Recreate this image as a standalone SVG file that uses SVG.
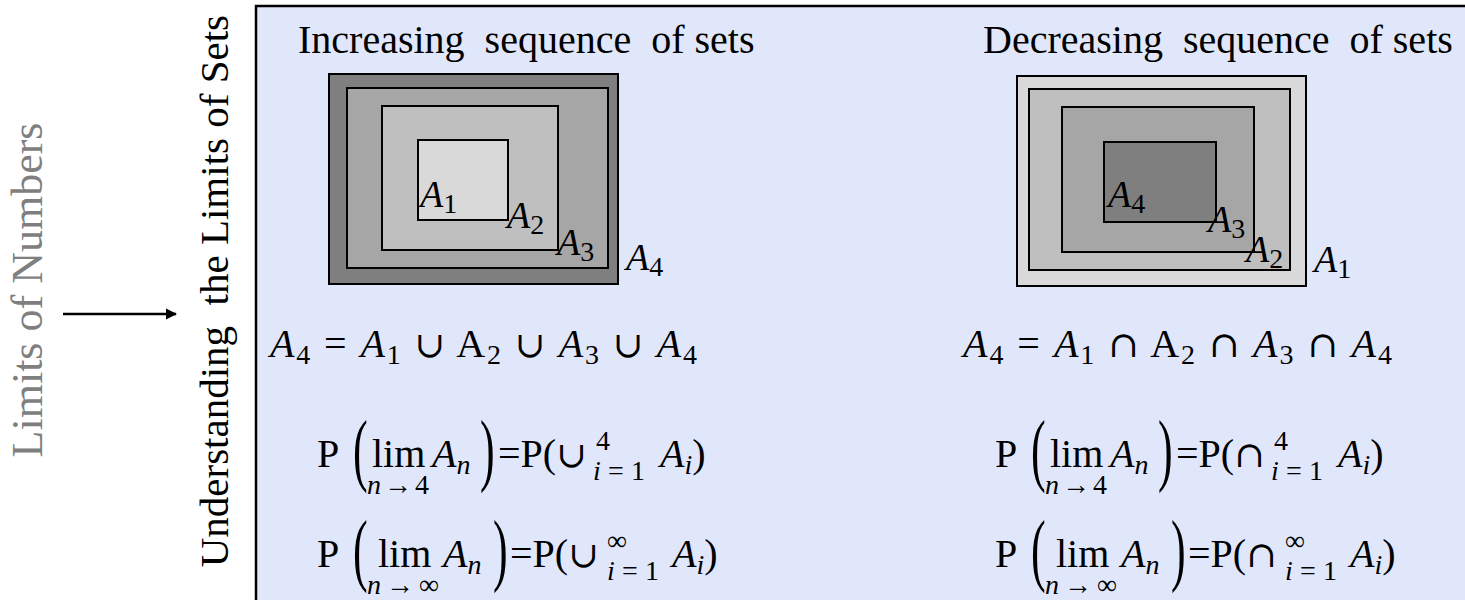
<svg xmlns="http://www.w3.org/2000/svg" width="1465" height="600" viewBox="0 0 1465 600">
<style>
.t{font-family:"Liberation Serif","DejaVu Serif",serif;fill:#000}
.g{fill:#7f7f7f}
.m{font-family:"Liberation Serif","DejaVu Serif",serif;fill:#000;font-size:40px}
.i{font-style:italic}
.sb{font-size:28px}
.op{font-family:"DejaVu Serif",serif;font-size:36px}
.lab{font-family:"Liberation Serif","DejaVu Serif",serif;font-size:38px;fill:#000}
.box{stroke:#000;stroke-width:2}
.bp{font-family:"Liberation Serif","DejaVu Serif",serif;font-size:80px;fill:#000}
</style>
<defs>
<marker id="ah" viewBox="0 0 10 10" refX="9" refY="5" markerWidth="4.5" markerHeight="4.5" orient="auto"><path d="M0,0 L10,5 L0,10 z" fill="#000"/></marker>
</defs>
<rect x="0" y="0" width="1465" height="600" fill="#fff"/>
<g id="left-labels">
<text class="t g" font-size="44" transform="translate(42,290) rotate(-90)" text-anchor="middle">Limits of Numbers</text>
<text class="t" font-size="41" xml:space="preserve" transform="translate(228,15) rotate(-90)" text-anchor="end">Understanding  the Limits of Sets</text>
</g>
<g id="connectors">
<line x1="63" y1="314" x2="176" y2="314" stroke="#000" stroke-width="2.5" marker-end="url(#ah)"/>
</g>
<g id="panel">
<rect x="256" y="6" width="1220" height="600" fill="#e1e7fa" stroke="#000" stroke-width="2.5"/>
</g>
<g id="increasing">
<text class="t" font-size="40" x="298" y="53" xml:space="preserve">Increasing  sequence  of sets</text>
<rect class="box" x="329" y="74" width="289" height="210" fill="#7f7f7f"/>
<rect class="box" x="347" y="88" width="261" height="180" fill="#a6a6a6"/>
<rect class="box" x="382" y="106" width="176" height="144" fill="#bfbfbf"/>
<rect class="box" x="418" y="140" width="90" height="80" fill="#d9d9d9"/>
<text class="lab" x="420" y="207"><tspan class="i">A</tspan><tspan class="sb" dy="6">1</tspan></text>
<text class="lab" x="507" y="228"><tspan class="i">A</tspan><tspan class="sb" dy="6">2</tspan></text>
<text class="lab" x="557" y="255"><tspan class="i">A</tspan><tspan class="sb" dy="6">3</tspan></text>
<text class="lab" x="626" y="270"><tspan class="i">A</tspan><tspan class="sb" dy="6">4</tspan></text>
</g>
<g id="decreasing">
<text class="t" font-size="40" x="983" y="53" xml:space="preserve">Decreasing  sequence  of sets</text>
<rect class="box" x="1017" y="76" width="289" height="210" fill="#d9d9d9"/>
<rect class="box" x="1029" y="89" width="261" height="181" fill="#bfbfbf"/>
<rect class="box" x="1062" y="107" width="192" height="145" fill="#a6a6a6"/>
<rect class="box" x="1104" y="142" width="112" height="80" fill="#7f7f7f"/>
<text class="lab" x="1108" y="207"><tspan class="i">A</tspan><tspan class="sb" dy="6">4</tspan></text>
<text class="lab" x="1208" y="232"><tspan class="i">A</tspan><tspan class="sb" dy="6">3</tspan></text>
<text class="lab" x="1246" y="262"><tspan class="i">A</tspan><tspan class="sb" dy="6">2</tspan></text>
<text class="lab" x="1314" y="272"><tspan class="i">A</tspan><tspan class="sb" dy="6">1</tspan></text>
</g>
<g id="union-formulas">
<text class="m" x="270" y="357" textLength="427" lengthAdjust="spacing"><tspan class="i">A</tspan><tspan class="sb" dy="7">4</tspan><tspan dy="-7"> = </tspan><tspan class="i">A</tspan><tspan class="sb" dy="7">1</tspan><tspan dy="-7"> </tspan><tspan class="op">∪</tspan> A<tspan class="sb" dy="7">2</tspan><tspan dy="-7"> </tspan><tspan class="op">∪</tspan> <tspan class="i">A</tspan><tspan class="sb" dy="7">3</tspan><tspan dy="-7"> </tspan><tspan class="op">∪</tspan> <tspan class="i">A</tspan><tspan class="sb" dy="7">4</tspan></text>
<g>
<text class="m" x="317" y="467">P</text>
<text class="bp" transform="translate(353,476) scale(0.55,1)">(</text>
<text class="m" x="372" y="467">lim</text>
<text class="m sb" x="367" y="494" textLength="62"><tspan class="i">n</tspan>→4</text>
<text class="m" x="432" y="467"><tspan class="i">A</tspan><tspan class="sb i" dy="7">n</tspan></text>
<text class="bp" transform="translate(480,476) scale(0.55,1)">)</text>
<text class="m" x="498" y="467">=P(<tspan class="op">∪</tspan></text>
<text class="m sb" x="596" y="450">4</text>
<text class="m sb" x="593" y="480" textLength="52"><tspan class="i">i</tspan>=1</text>
<text class="m" x="660" y="467"><tspan class="i">A</tspan><tspan class="sb i" dy="7">i</tspan><tspan dy="-7">)</tspan></text>
</g>
<g transform="translate(0,100)">
<text class="m" x="317" y="467">P</text>
<text class="bp" transform="translate(353,476) scale(0.55,1)">(</text>
<text class="m" x="378" y="467">lim</text>
<text class="m sb" x="367" y="494" textLength="72"><tspan class="i">n</tspan>→∞</text>
<text class="m" x="443" y="467"><tspan class="i">A</tspan><tspan class="sb i" dy="7">n</tspan></text>
<text class="bp" transform="translate(493,476) scale(0.55,1)">)</text>
<text class="m" x="510" y="467">=P(<tspan class="op">∪</tspan></text>
<text class="m sb" x="607" y="450">∞</text>
<text class="m sb" x="607" y="480" textLength="52"><tspan class="i">i</tspan>=1</text>
<text class="m" x="672" y="467"><tspan class="i">A</tspan><tspan class="sb i" dy="7">i</tspan><tspan dy="-7">)</tspan></text>
</g>
</g>
<g id="intersection-formulas">
<text class="m" x="963" y="357" textLength="429" lengthAdjust="spacing"><tspan class="i">A</tspan><tspan class="sb" dy="7">4</tspan><tspan dy="-7"> = </tspan><tspan class="i">A</tspan><tspan class="sb" dy="7">1</tspan><tspan dy="-7"> </tspan><tspan class="op">∩</tspan> A<tspan class="sb" dy="7">2</tspan><tspan dy="-7"> </tspan><tspan class="op">∩</tspan> <tspan class="i">A</tspan><tspan class="sb" dy="7">3</tspan><tspan dy="-7"> </tspan><tspan class="op">∩</tspan> <tspan class="i">A</tspan><tspan class="sb" dy="7">4</tspan></text>
<g transform="translate(678,0)">
<text class="m" x="317" y="467">P</text>
<text class="bp" transform="translate(353,476) scale(0.55,1)">(</text>
<text class="m" x="372" y="467">lim</text>
<text class="m sb" x="367" y="494" textLength="62"><tspan class="i">n</tspan>→4</text>
<text class="m" x="432" y="467"><tspan class="i">A</tspan><tspan class="sb i" dy="7">n</tspan></text>
<text class="bp" transform="translate(480,476) scale(0.55,1)">)</text>
<text class="m" x="498" y="467">=P(<tspan class="op">∩</tspan></text>
<text class="m sb" x="596" y="450">4</text>
<text class="m sb" x="593" y="480" textLength="52"><tspan class="i">i</tspan>=1</text>
<text class="m" x="660" y="467"><tspan class="i">A</tspan><tspan class="sb i" dy="7">i</tspan><tspan dy="-7">)</tspan></text>
</g>
<g transform="translate(678,100)">
<text class="m" x="317" y="467">P</text>
<text class="bp" transform="translate(353,476) scale(0.55,1)">(</text>
<text class="m" x="378" y="467">lim</text>
<text class="m sb" x="367" y="494" textLength="72"><tspan class="i">n</tspan>→∞</text>
<text class="m" x="443" y="467"><tspan class="i">A</tspan><tspan class="sb i" dy="7">n</tspan></text>
<text class="bp" transform="translate(493,476) scale(0.55,1)">)</text>
<text class="m" x="510" y="467">=P(<tspan class="op">∩</tspan></text>
<text class="m sb" x="607" y="450">∞</text>
<text class="m sb" x="607" y="480" textLength="52"><tspan class="i">i</tspan>=1</text>
<text class="m" x="672" y="467"><tspan class="i">A</tspan><tspan class="sb i" dy="7">i</tspan><tspan dy="-7">)</tspan></text>
</g>
</g>
</svg>
